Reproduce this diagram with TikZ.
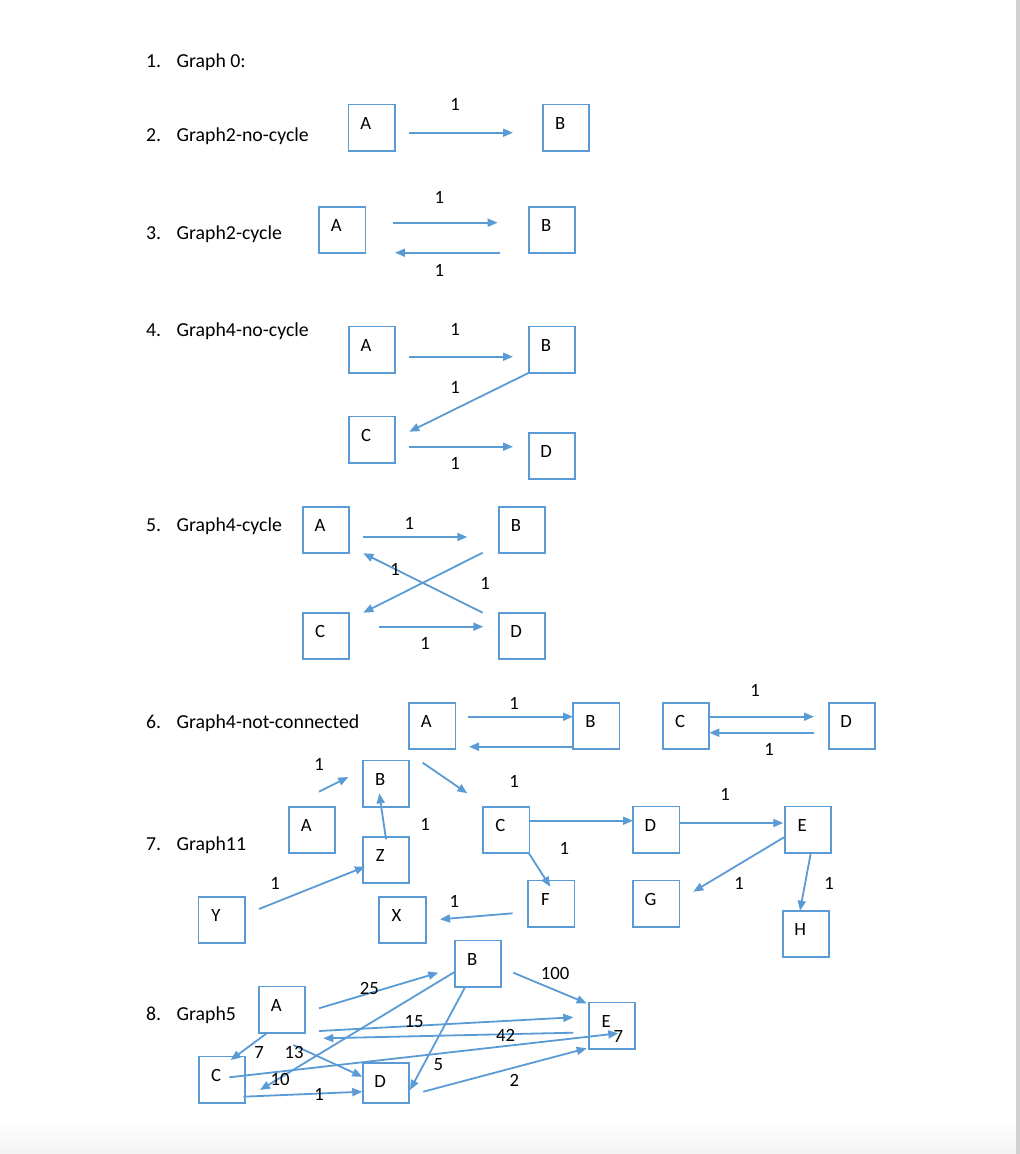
\documentclass[tikz,border=0pt]{standalone}
\usepackage{fontspec}
\setmainfont{Carlito}
\usetikzlibrary{arrows.meta}
\definecolor{gblue}{HTML}{5B9BD5}
\newcommand\itemfnt{\fontsize{19.8}{23}\selectfont}
\newcommand\lblfnt{\fontsize{18.7}{22}\selectfont}
\begin{document}
\begin{tikzpicture}[x=1pt,y=-1pt,
  gbox/.style={draw=gblue,line width=1.9pt,minimum width=46.5pt,minimum height=46.5pt,inner sep=0pt,outer sep=0pt},
  blbl/.style={font=\lblfnt,inner sep=0pt,xshift=-5.8pt,yshift=4.3pt},
  arr/.style={draw=gblue,line width=1.8pt,-{Triangle[length=10pt,width=8pt]}},
  wt/.style={font=\lblfnt,inner sep=0pt},
  itm/.style={font=\itemfnt,inner sep=0pt,anchor=base west}]
\useasboundingbox (0,0) rectangle (1020,1154);
\fill[white] (0,0) rectangle (1020,1154);
\shade[top color=white,bottom color=black!5] (0,1120) rectangle (1016,1154);
\fill[black!18] (1016,0) rectangle (1020,1154);

% list items
\node[itm] (t1) at (146,67.5) {\makebox[30.5pt][l]{1.}Graph 0:};
\node[itm] (t2) at (146,141.7) {\makebox[30.5pt][l]{2.}Graph2-no-cycle};
\node[itm] (t3) at (146,239.3) {\makebox[30.5pt][l]{3.}Graph2-cycle};
\node[itm] (t4) at (146,336) {\makebox[30.5pt][l]{4.}Graph4-no-cycle};
\node[itm] (t5) at (146,531.7) {\makebox[30.5pt][l]{5.}Graph4-cycle};
\node[itm] (t6) at (146,728.3) {\makebox[30.5pt][l]{6.}Graph4-not-connected};
\node[itm] (t7) at (146,850) {\makebox[30.5pt][l]{7.}Graph11};
\node[itm] (t8) at (146,1020) {\makebox[30.5pt][l]{8.}Graph5};

% ---------- section 2
\node[gbox,label={[blbl]center:A}] (a2) at (371.7,127.7) {};
\node[gbox,label={[blbl]center:B}] (b2) at (566,127.7) {};
\coordinate (a2o) at (409,132.7);
\coordinate (b2i) at (513,132.7);
\draw[arr] (a2o) -- (b2i);
\node[wt] (w2) at (455,104.3) {1};

% ---------- section 3
\node[gbox,label={[blbl]center:A}] (a3) at (342.2,230) {};
\node[gbox,label={[blbl]center:B}] (b3) at (552,230) {};
\coordinate (a3o) at (393.3,222.7);
\coordinate (b3i) at (497.7,222.7);
\coordinate (b3o) at (500,252.7);
\coordinate (a3i) at (395,252.7);
\draw[arr] (a3o) -- (b3i);
\draw[arr] (b3o) -- (a3i);
\node[wt] (w3a) at (439.3,197.5) {1};
\node[wt] (w3b) at (439.3,270) {1};

% ---------- section 4
\node[gbox,label={[blbl]center:A}] (a4) at (371.8,349.7) {};
\node[gbox,label={[blbl]center:B}] (b4) at (551.8,349.7) {};
\node[gbox,label={[blbl]center:C}] (c4) at (371.8,439.7) {};
\node[gbox,label={[blbl]center:D}] (d4) at (551.8,455.8) {};
\coordinate (a4o) at (409,356.7);
\coordinate (b4i) at (513,356.7);
\coordinate (c4i) at (409.3,431.7);
\coordinate (c4o) at (409,446.7);
\coordinate (d4i) at (513,446.7);
\draw[arr] (a4o) -- (b4i);
\draw[arr] (b4.south west) -- (c4i);
\draw[arr] (c4o) -- (d4i);
\node[wt] (w4a) at (455,329.7) {1};
\node[wt] (w4b) at (455,387.8) {1};
\node[wt] (w4c) at (455,463) {1};

% ---------- section 5
\node[gbox,label={[blbl]center:A}] (a5) at (325.8,529.8) {};
\node[gbox,label={[blbl]center:B}] (b5) at (521.8,529.8) {};
\node[gbox,label={[blbl]center:C}] (c5) at (325.8,635.8) {};
\node[gbox,label={[blbl]center:D}] (d5) at (521.8,635.8) {};
\coordinate (a5o) at (363.3,537);
\coordinate (b5i) at (467.3,537);
\coordinate (b5o) at (482.7,552.7);
\coordinate (c5i) at (363.3,612.7);
\coordinate (d5o) at (482.7,612.7);
\coordinate (a5i) at (363.3,553.3);
\coordinate (c5o) at (379.3,626.7);
\coordinate (d5i) at (483.3,626.7);
\draw[arr] (a5o) -- (b5i);
\draw[arr] (b5o) -- (c5i);
\draw[arr] (d5o) -- (a5i);
\draw[arr] (c5o) -- (d5i);
\node[wt] (w5a) at (409.3,523.7) {1};
\node[wt] (w5b) at (395,569.7) {1};
\node[wt] (w5c) at (485,583.3) {1};
\node[wt] (w5d) at (425,643.7) {1};

% ---------- section 6
\node[gbox,label={[blbl]center:A}] (a6) at (432.2,726) {};
\node[gbox,label={[blbl]center:B}] (b6) at (596.2,726) {};
\node[gbox,label={[blbl]center:C}] (c6) at (686,726) {};
\node[gbox,label={[blbl]center:D}] (d6) at (852,726) {};
\coordinate (a6o) at (468,716.7);
\coordinate (b6i) at (573,716.7);
\coordinate (b6o) at (573,746.7);
\coordinate (a6i) at (469,746.7);
\coordinate (c6o) at (709.3,716.7);
\coordinate (d6i) at (814,716.7);
\coordinate (d6o) at (814,732.7);
\coordinate (c6i) at (709.3,732.7);
\draw[arr] (a6o) -- (b6i);
\draw[arr] (b6o) -- (a6i);
\draw[arr] (c6o) -- (d6i);
\draw[arr] (d6o) -- (c6i);
\node[wt] (w6a) at (514,703.3) {1};
\node[wt] (w6b) at (755,690) {1};
\node[wt] (w6c) at (769,749.7) {1};

% ---------- section 7
\node[gbox,label={[blbl]center:A}] (a7) at (312,830) {};
\node[gbox,label={[blbl]center:B}] (b7) at (386,783.7) {};
\node[gbox,label={[blbl]center:Z}] (z7) at (386,860) {};
\node[gbox,label={[blbl]center:Y}] (y7) at (221.7,920) {};
\node[gbox,label={[blbl]center:X}] (x7) at (402.3,920) {};
\node[gbox,label={[blbl]center:C}] (c7) at (506.2,830) {};
\node[gbox,label={[blbl]center:D}] (d7) at (656.2,829.7) {};
\node[gbox,label={[blbl]center:E}] (e7) at (808,829.7) {};
\node[gbox,label={[blbl]center:F}] (f7) at (551.2,903.7) {};
\node[gbox,label={[blbl]center:G}] (g7) at (656.2,903.7) {};
\node[gbox,label={[blbl]center:H}] (h7) at (806,934) {};
\coordinate (a7o) at (319,791.7);
\coordinate (b7i) at (348.3,777);
\coordinate (z7o) at (386,839.3);
\coordinate (b7j) at (379.3,793.3);
\coordinate (b7o) at (422.7,762.7);
\coordinate (c7i) at (467.3,793.3);
\coordinate (y7o) at (259,909);
\coordinate (z7i) at (365,866.7);
\coordinate (f7o) at (512.6,913.3);
\coordinate (x7i) at (440,919.3);
\coordinate (c7o) at (529.5,820.7);
\coordinate (d7i) at (633,820.7);
\coordinate (d7o) at (679.3,823);
\coordinate (e7i) at (783.3,823);
\coordinate (c7p) at (528.5,852.7);
\coordinate (f7i) at (550.3,886.7);
\coordinate (e7o) at (784,837.3);
\coordinate (g7i) at (693.3,891.7);
\coordinate (e7p) at (810.7,853.3);
\coordinate (h7i) at (800,910.7);
\draw[arr] (a7o) -- (b7i);
\draw[arr] (z7o) -- (b7j);
\draw[arr] (b7o) -- (c7i);
\draw[arr] (y7o) -- (z7i);
\draw[arr] (f7o) -- (x7i);
\draw[arr] (c7o) -- (d7i);
\draw[arr] (d7o) -- (e7i);
\draw[arr] (c7p) -- (f7i);
\draw[arr] (e7o) -- (g7i);
\draw[arr] (e7p) -- (h7i);
\node[wt] (w7a) at (319,764) {1};
\node[wt] (w7b) at (425,824.2) {1};
\node[wt] (w7c) at (514,781.7) {1};
\node[wt] (w7d) at (725,794.5) {1};
\node[wt] (w7e) at (564.4,848) {1};
\node[wt] (w7f) at (275,883.7) {1};
\node[wt] (w7g) at (454.3,901.7) {1};
\node[wt] (w7h) at (739,883.7) {1};
\node[wt] (w7i) at (829,883.7) {1};

% ---------- section 8
\node[gbox,label={[blbl]center:A}] (a8) at (282,1009.7) {};
\node[gbox,label={[blbl]center:B}] (b8) at (478,963.7) {};
\node[gbox,label={[blbl]center:C}] (c8) at (222,1079.7) {};
\node[gbox,minimum height=40pt,label={[blbl,yshift=-2.6pt]center:D}] (d8) at (386,1082.7) {};
\node[gbox,label={[blbl]center:E}] (e8) at (612,1025.7) {};
\coordinate (ab1) at (319,1008.3);
\coordinate (ab2) at (438.3,972.7);
\coordinate (be1) at (513.3,972.7);
\coordinate (be2) at (586.7,1003.3);
\coordinate (ae1) at (319,1031);
\coordinate (ae2) at (573.3,1017.3);
\coordinate (ea1) at (573.3,1032.7);
\coordinate (ea2) at (323.3,1038.3);
\coordinate (bc1) at (455,971.7);
\coordinate (bc2) at (260,1090);
\coordinate (bd1) at (465,987.3);
\coordinate (bd2) at (410,1090);
\coordinate (ac1) at (266.7,1033.3);
\coordinate (ac2) at (230.7,1060);
\coordinate (ad1) at (293.3,1045);
\coordinate (ad2) at (362.3,1076.7);
\coordinate (ce1) at (229.3,1077.3);
\coordinate (ce2) at (618.3,1033.3);
\coordinate (cd1) at (243.3,1096.7);
\coordinate (cd2) at (362.3,1091.7);
\coordinate (de1) at (423.3,1091.7);
\coordinate (de2) at (586.7,1048.3);
\draw[arr] (ab1) -- (ab2);
\draw[arr] (be1) -- (be2);
\draw[arr] (ae1) -- (ae2);
\draw[arr] (ea1) -- (ea2);
\draw[arr] (bc1) -- (bc2);
\draw[arr] (bd1) -- (bd2);
\draw[arr] (ac1) -- (ac2);
\draw[arr] (ad1) -- (ad2);
\draw[arr] (ce1) -- (ce2);
\draw[arr] (cd1) -- (cd2);
\draw[arr] (de1) -- (de2);
\node[wt] (w8a) at (369.3,988) {25};
\node[wt] (w8b) at (555,973.7) {100};
\node[wt] (w8c) at (414,1022) {15};
\node[wt] (w8d) at (505.7,1035.7) {42};
\node[wt] (w8e) at (259,1052.5) {7};
\node[wt] (w8f) at (294,1052.2) {13};
\node[wt] (w8g) at (618.3,1036.3) {7};
\node[wt] (w8h) at (438.3,1064.2) {5};
\node[wt] (w8i) at (280,1079.7) {10};
\node[wt] (w8j) at (319,1094.2) {1};
\node[wt] (w8k) at (514.3,1080.8) {2};
\end{tikzpicture}
\end{document}
